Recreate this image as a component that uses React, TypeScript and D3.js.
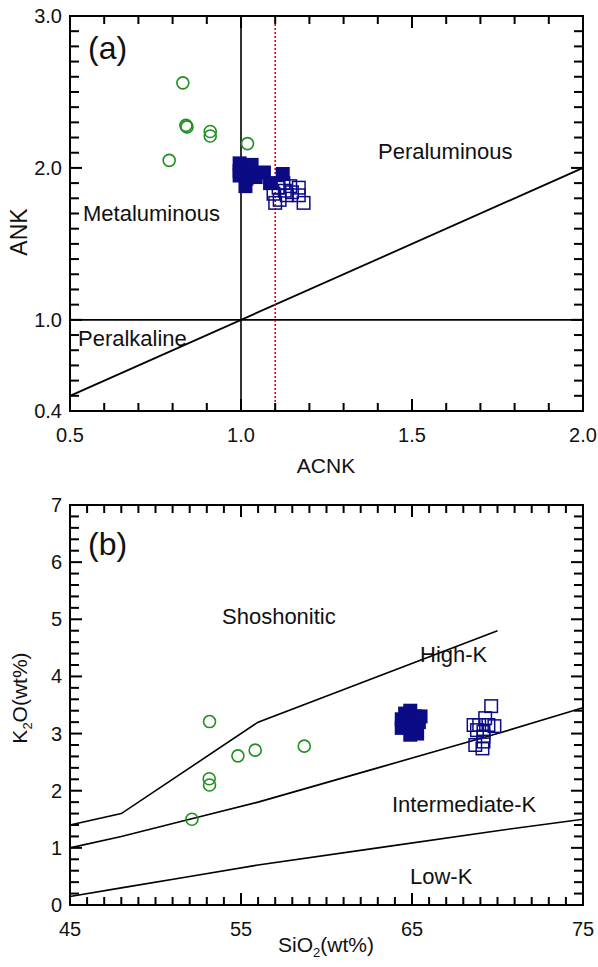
import React from "react";
import * as d3 from "d3";

// ---------- Panel (a) data: ACNK vs ANK ----------
const aCirclesACNK = [0.83, 0.839, 0.842, 0.91, 0.91, 1.019, 0.79];
const aCirclesANK = [2.56, 2.28, 2.27, 2.24, 2.21, 2.16, 2.05];

const aFilledACNK = [0.996, 1.031, 0.996, 1.016, 1.043, 1.067, 1.085, 1.122, 1.013, 0.996];
const aFilledANK = [2.03, 2.02, 1.95, 1.93, 1.94, 1.97, 1.9, 1.96, 1.88, 1.98];

const aOpenACNK = [1.095, 1.11, 1.124, 1.144, 1.169, 1.149, 1.134, 1.183, 1.1, 1.113, 1.128, 1.169];
const aOpenANK = [1.83, 1.87, 1.9, 1.88, 1.87, 1.84, 1.82, 1.77, 1.77, 1.79, 1.85, 1.82];

const aXTickLabels = [0.5, 1.0, 1.5, 2.0];
const aYTickLabels = [0.4, 1.0, 2.0, 3.0];

// ---------- Panel (b) data: SiO2 vs K2O ----------
const bCirclesSiO2 = [53.16, 53.14, 53.16, 54.82, 55.83, 58.7, 52.13];
const bCirclesK2O = [3.21, 2.21, 2.1, 2.61, 2.71, 2.78, 1.5];

const bFilledSiO2 = [64.4, 64.6, 64.9, 65.2, 65.4, 64.5, 64.8, 65.1, 65.3, 64.7, 65.0, 65.5, 64.9, 64.4];
const bFilledK2O = [3.25, 3.35, 3.4, 3.3, 3.2, 3.15, 3.1, 3.05, 3.0, 3.25, 3.2, 3.3, 2.98, 3.1];

const bOpenSiO2 = [69.63, 69.28, 68.6, 68.93, 69.47, 69.82, 69.18, 69.18, 68.7, 69.12, 69.18, 68.8];
const bOpenK2O = [3.48, 3.27, 3.15, 3.15, 3.15, 3.13, 3.03, 2.86, 2.8, 2.74, 2.95, 3.06];

// Boundary lines (Peccerillo & Taylor)
const shoSiO2 = [45, 48, 56, 63, 70];
const shoK2O = [1.4, 1.6, 3.2, 4.0, 4.8];
const highSiO2 = [45, 48, 52, 56, 63, 70, 75];
const highK2O = [1.0, 1.2, 1.5, 1.8, 2.4, 3.0, 3.45];
const lowSiO2 = [45, 48, 52, 56, 63, 70, 75];
const lowK2O = [0.15, 0.3, 0.5, 0.7, 1.0, 1.3, 1.5];

const bXTickLabels = [45, 55, 65, 75];
const bYTickLabels = [0, 1, 2, 3, 4, 5, 6, 7];

const GREEN = "#1f8f1f";
const NAVY = "#0b0b85";
const FONT = "'Liberation Sans', Arial, sans-serif";

const L = 70, R = 583;

const xa = d3.scaleLinear().domain([0.5, 2.0]).range([L, R]);
const ya = d3.scaleLinear().domain([0.4, 3.0]).range([411, 16]);
const xb = d3.scaleLinear().domain([45, 75]).range([L, R]);
const yb = d3.scaleLinear().domain([0, 7]).range([905, 505]);

const aXMinor = d3.range(5, 21).map((i) => i / 10);
const aYMinor = d3.range(4, 31).map((i) => i / 10);
const bXMinor = d3.range(45, 76);
const bYMinor = d3.range(0, 36).map((i) => i / 5);

function tickLines(key: string, sx: any, sy: any, xMinor: number[], xMajor: number[], yMinor: number[], yMajor: number[]) {
  const x0 = sx(sx.domain()[0]);
  const x1 = sx(sx.domain()[1]);
  const y0 = sy(sy.domain()[0]);
  const y1 = sy(sy.domain()[1]);
  const out: any[] = [];
  xMinor.forEach((v, i) => {
    const len = xMajor.includes(v) ? 12 : 8;
    const px = sx(v);
    out.push(<line key={key + "xb" + i} x1={px} x2={px} y1={y0} y2={y0 - len} stroke="#000" strokeWidth={2} />);
    out.push(<line key={key + "xt" + i} x1={px} x2={px} y1={y1} y2={y1 + len} stroke="#000" strokeWidth={2} />);
  });
  yMinor.forEach((v, i) => {
    const len = yMajor.includes(v) ? 12 : 9;
    const py = sy(v);
    out.push(<line key={key + "yl" + i} x1={x0} x2={x0 + len} y1={py} y2={py} stroke="#000" strokeWidth={2} />);
    out.push(<line key={key + "yr" + i} x1={x1} x2={x1 - len} y1={py} y2={py} stroke="#000" strokeWidth={2} />);
  });
  return out;
}

function frameAndLabels(key: string, sx: any, sy: any, xMajor: number[], yMajor: number[], fmtX: any, fmtY: any) {
  const x0 = sx(sx.domain()[0]);
  const x1 = sx(sx.domain()[1]);
  const y0 = sy(sy.domain()[0]);
  const y1 = sy(sy.domain()[1]);
  const out: any[] = [];
  out.push(<rect key={key + "frame"} x={x0} y={y1} width={x1 - x0} height={y0 - y1} fill="none" stroke="#000" strokeWidth={2} />);
  xMajor.forEach((v, i) => {
    out.push(<text key={key + "xlab" + i} x={sx(v)} y={y0 + 31} textAnchor="middle" fontFamily={FONT} fontSize={20} fill="#111">{fmtX(v)}</text>);
  });
  yMajor.forEach((v, i) => {
    out.push(<text key={key + "ylab" + i} x={x0 - 8} y={sy(v) + 7} textAnchor="end" fontFamily={FONT} fontSize={20} fill="#111">{fmtY(v)}</text>);
  });
  return out;
}

function square(key: string, cx: number, cy: number, filled: boolean) {
  const s = 12.5;
  return (
    <rect key={key} x={cx - s / 2} y={cy - s / 2} width={s} height={s}
      fill={filled ? NAVY : "none"} stroke={NAVY} strokeWidth={1.5} />
  );
}

export default function App() {
  const lineA = d3.line<[number, number]>().x((d) => xa(d[0])).y((d) => ya(d[1]));
  const lineB = d3.line<[number, number]>().x((d) => xb(d[0])).y((d) => yb(d[1]));

  const sho = shoSiO2.map((v, i) => [v, shoK2O[i]] as [number, number]);
  const high = highSiO2.map((v, i) => [v, highK2O[i]] as [number, number]);
  const low = lowSiO2.map((v, i) => [v, lowK2O[i]] as [number, number]);

  return (
    <svg width={598} height={967} style={{ position: "absolute", left: 0, top: 0 }}>
      {/* ---------- Panel (a) ---------- */}
      <line x1={xa(1.0)} x2={xa(1.0)} y1={ya(3.0)} y2={ya(0.4)} stroke="#333" strokeWidth={2} />
      <line x1={xa(0.5)} x2={xa(2.0)} y1={ya(1.0)} y2={ya(1.0)} stroke="#000" strokeWidth={1.8} />
      <path d={lineA([[0.5, 0.5], [2.0, 2.0]]) || ""} stroke="#000" strokeWidth={1.8} fill="none" />
      <line x1={xa(1.1)} x2={xa(1.1)} y1={ya(3.0)} y2={ya(0.4)} stroke="#e00" strokeWidth={1.6} strokeDasharray="2,2" />
      {frameAndLabels("a", xa, ya, aXTickLabels, aYTickLabels, d3.format(".1f"), d3.format(".1f"))}
      {aCirclesACNK.map((v, i) => (
        <circle key={"ac" + i} cx={xa(v)} cy={ya(aCirclesANK[i])} r={6} fill="none" stroke={GREEN} strokeWidth={1.6} />
      ))}
      {aFilledACNK.map((v, i) => square("af" + i, xa(v), ya(aFilledANK[i]), true))}
      {aOpenACNK.map((v, i) => square("ao" + i, xa(v), ya(aOpenANK[i]), false))}
      <g fontFamily={FONT} fill="#111">
        <text x={88} y={59} fontSize={32}>(a)</text>
        <text x={378} y={159} fontSize={22}>Peraluminous</text>
        <text x={83} y={221} fontSize={22}>Metaluminous</text>
        <text x={78} y={346} fontSize={22}>Peralkaline</text>
        <text x={326} y={473} fontSize={21} textAnchor="middle">ACNK</text>
        <text transform="translate(27,232) rotate(-90)" fontSize={23} textAnchor="middle">ANK</text>
      </g>

      {/* ---------- Panel (b) ---------- */}
      <path d={lineB(sho) || ""} stroke="#000" strokeWidth={1.6} fill="none" />
      <path d={lineB(high) || ""} stroke="#000" strokeWidth={1.6} fill="none" />
      <path d={lineB(low) || ""} stroke="#000" strokeWidth={1.6} fill="none" />
      {frameAndLabels("b", xb, yb, bXTickLabels, bYTickLabels, d3.format("d"), d3.format("d"))}
      {bCirclesSiO2.map((v, i) => (
        <circle key={"bc" + i} cx={xb(v)} cy={yb(bCirclesK2O[i])} r={6} fill="none" stroke={GREEN} strokeWidth={1.6} />
      ))}
      {bFilledSiO2.map((v, i) => square("bf" + i, xb(v), yb(bFilledK2O[i]), true))}
      {bOpenSiO2.map((v, i) => square("bo" + i, xb(v), yb(bOpenK2O[i]), false))}
      <g fontFamily={FONT} fill="#111">
        <text x={88} y={555} fontSize={32}>(b)</text>
        <text x={222} y={624} fontSize={22}>Shoshonitic</text>
        <text x={420} y={662} fontSize={22}>High-K</text>
        <text x={392} y={812} fontSize={22}>Intermediate-K</text>
        <text x={410} y={884} fontSize={22}>Low-K</text>
        <text x={326} y={952} fontSize={21} textAnchor="middle">
          SiO<tspan fontSize={13} dy={5}>2</tspan><tspan dy={-5}>(wt%)</tspan>
        </text>
        <text transform="translate(27,698) rotate(-90)" fontSize={21} textAnchor="middle">
          K<tspan fontSize={13} dy={5}>2</tspan><tspan dy={-5}>O(wt%)</tspan>
        </text>
      </g>

      {/* ---------- inward tick marks, drawn last ---------- */}
      {tickLines("ta", xa, ya, aXMinor, aXTickLabels, aYMinor, aYTickLabels)}
      {tickLines("tb", xb, yb, bXMinor, bXTickLabels, bYMinor, bYTickLabels)}
    </svg>
  );
}
